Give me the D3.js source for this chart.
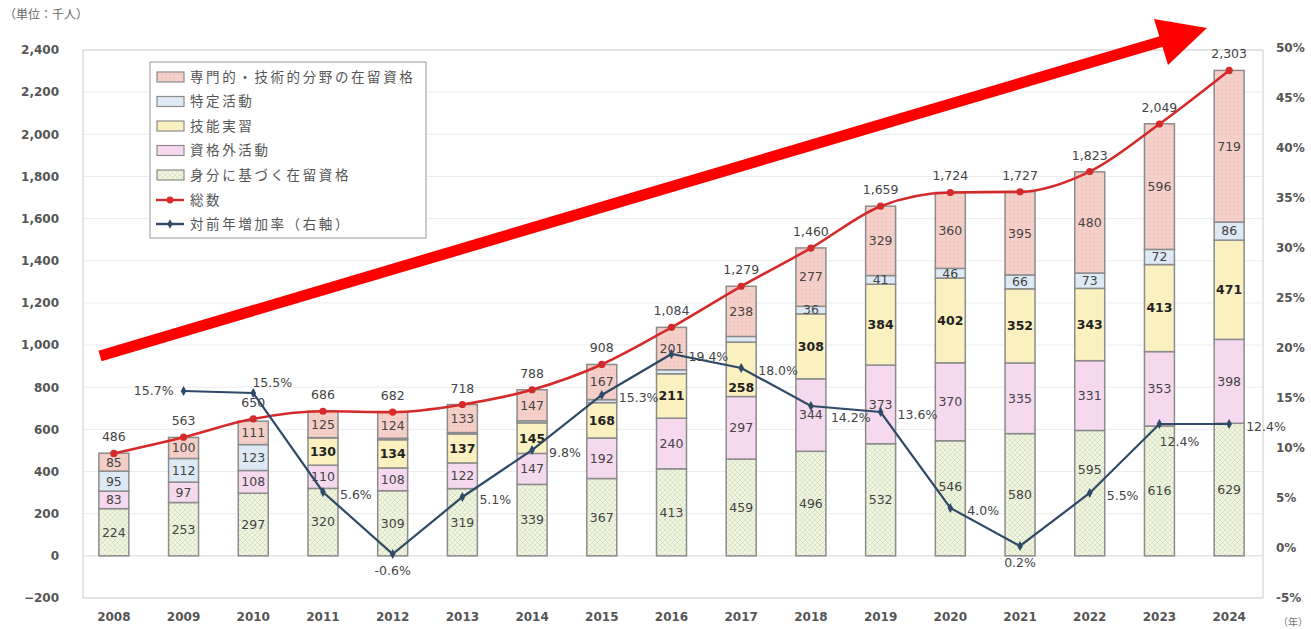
<!DOCTYPE html>
<meta charset="utf-8">
<style>
  body { margin: 0; background: #fff; }
  text { font-family: "DejaVu Sans", sans-serif; }
  .jp { font-family: "Noto Sans CJK JP", sans-serif; }
</style>
<div id="chart"></div>
<script src="https://d3js.org/d3.v7.min.js"></script>
<script>

// data (千人, %)
var years = ["2008","2009","2010","2011","2012","2013","2014","2015","2016","2017","2018","2019","2020","2021","2022","2023","2024"];
var mibun      = [224,253,297,320,309,319,339,367,413,459,496,532,546,580,595,616,629];
var shikakugai = [83,97,108,110,108,122,147,192,240,297,344,373,370,335,331,353,398];
var ginou      = [0,0,0,130,134,137,145,168,211,258,308,384,402,352,343,413,471];
var tokutei    = [95,112,123,1,7,7,10,14,19,27,36,41,46,66,73,72,86];
var senmon     = [85,100,111,125,124,133,147,167,201,238,277,329,360,395,480,596,719];
var total      = [486,563,650,686,682,718,788,908,1084,1279,1460,1659,1724,1727,1823,2049,2303];
var growth     = [null,15.7,15.5,5.6,-0.6,5.1,9.8,15.3,19.4,18.0,14.2,13.6,4.0,0.2,5.5,12.4,12.4];
// where each growth label sits relative to its point
var growthPos  = [null,"left","above","right","below","right","right","right","right","right","rightlow","right","right","below","right","belowright","right"];

var leftTicks  = [-200,0,200,400,600,800,1000,1200,1400,1600,1800,2000,2200,2400];
var rightTicks = [-5,0,5,10,15,20,25,30,35,40,45,50];

var keys = ["mibun","shikakugai","ginou","tokutei","senmon"];
var names = {
  senmon: "専門的・技術的分野の在留資格",
  tokutei: "特定活動",
  ginou: "技能実習",
  shikakugai: "資格外活動",
  mibun: "身分に基づく在留資格"
};
var fills = {
  mibun: "url(#pGreen)",
  shikakugai: "#f6d8ef",
  ginou: "#fbf0bf",
  tokutei: "#dde9f5",
  senmon: "url(#pSalmon)"
};
// a few segment labels are shifted in the original to dodge the lines
var nudge = {"ginou-2017": 18, "mibun-2020": -12, "mibun-2022": -24};

var rows = years.map(function(y, i) {
  return {year: y, mibun: mibun[i], shikakugai: shikakugai[i], ginou: ginou[i], tokutei: tokutei[i], senmon: senmon[i]};
});

var W = 1311, H = 629;
var svg = d3.select("#chart").append("svg").attr("width", W).attr("height", H);

var defs = svg.append("defs");
var pg = defs.append("pattern").attr("id", "pGreen").attr("patternUnits", "userSpaceOnUse")
  .attr("width", 5).attr("height", 5);
pg.append("rect").attr("width", 5).attr("height", 5).attr("fill", "#f1f5e2");
pg.append("path").attr("d", "M0,0 L5,5 M5,0 L0,5").attr("stroke", "#cfdcb4").attr("stroke-width", 0.7);
var ps = defs.append("pattern").attr("id", "pSalmon").attr("patternUnits", "userSpaceOnUse")
  .attr("width", 4).attr("height", 4);
ps.append("rect").attr("width", 4).attr("height", 4).attr("fill", "#f5d0c8");
ps.append("circle").attr("cx", 2).attr("cy", 2).attr("r", 0.6).attr("fill", "#e8b4aa");

// scales
var x = d3.scaleBand().domain(years).range([79, 1264]).paddingInner(0.57).paddingOuter(0.285);
var y = d3.scaleLinear().domain([-200, 2400]).range([598, 50]);
var y2 = d3.scaleLinear().domain([-5, 50]).range([598, 48]);

// frame + grid
svg.append("g").selectAll("line").data(leftTicks).join("line")
  .attr("x1", 83).attr("x2", 1263)
  .attr("y1", function(d) { return y(d); }).attr("y2", function(d) { return y(d); })
  .attr("stroke", function(d) { return d === 0 ? "#d8d8d8" : "#ececec"; }).attr("stroke-width", 1);
svg.append("rect").attr("x", 83).attr("y", 50).attr("width", 1180).attr("height", 548)
  .attr("fill", "none").attr("stroke", "#d6d6d6").attr("stroke-width", 1.2);

// axes
var yAxis = svg.append("g").attr("transform", "translate(62,0)")
  .call(d3.axisLeft(y).tickValues(leftTicks).tickSize(0).tickFormat(d3.format(",")));
var y2Axis = svg.append("g").attr("transform", "translate(1273,0)")
  .call(d3.axisRight(y2).tickValues(rightTicks).tickSize(0).tickFormat(function(d) { return d + "%"; }));
var xAxis = svg.append("g").attr("transform", "translate(0,617)")
  .call(d3.axisBottom(x).tickSize(0));
[yAxis, y2Axis, xAxis].forEach(function(a) {
  a.select(".domain").remove();
  a.selectAll("text").attr("fill", "#555").attr("font-size", 12).attr("font-weight", "bold")
    .style("font-family", "DejaVu Sans, sans-serif");
});
yAxis.selectAll("text").attr("dx", 0);
xAxis.selectAll("text").attr("dy", "0.35em").attr("y", 0);

svg.append("text").attr("class", "jp").attr("x", 4).attr("y", 19)
  .attr("font-size", 12).attr("fill", "#666").text("（単位：千人）");
svg.append("text").attr("class", "jp").attr("x", 1278).attr("y", 626)
  .attr("font-size", 10).attr("fill", "#777").text("（年）");

// stacked bars
var stacked = d3.stack().keys(keys)(rows);
var layers = svg.append("g").selectAll("g").data(stacked).join("g")
  .attr("fill", function(d) { return fills[d.key]; });
layers.selectAll("rect").data(function(d) { return d; }).join("rect")
  .attr("x", function(d) { return x(d.data.year); })
  .attr("width", x.bandwidth())
  .attr("y", function(d) { return y(d[1]); })
  .attr("height", function(d) { return y(d[0]) - y(d[1]); })
  .attr("stroke", "#8c8c8c").attr("stroke-width", 1.5);

// segment labels
stacked.forEach(function(layer) {
  svg.append("g").selectAll("text")
    .data(layer.filter(function(d) { return d[1] - d[0] >= 30; }))
    .join("text")
    .attr("x", function(d) { return x(d.data.year) + x.bandwidth() / 2; })
    .attr("y", function(d) { return y((d[0] + d[1]) / 2) + (nudge[layer.key + "-" + d.data.year] || 0); })
    .attr("dy", "0.35em")
    .attr("text-anchor", "middle")
    .attr("font-size", 12.5)
    .attr("font-weight", layer.key === "ginou" ? "bold" : "normal")
    .attr("fill", layer.key === "ginou" ? "#222" : "#444")
    .text(function(d) { return d[1] - d[0]; });
});

// total line
var cx = function(i) { return x(years[i]) + x.bandwidth() / 2; };
svg.append("path").datum(total)
  .attr("fill", "none").attr("stroke", "#d42a2a").attr("stroke-width", 2.6)
  .attr("d", d3.line().x(function(d, i) { return cx(i); }).y(function(d) { return y(d); }).curve(d3.curveMonotoneX));
svg.append("g").selectAll("circle").data(total).join("circle")
  .attr("cx", function(d, i) { return cx(i); }).attr("cy", function(d) { return y(d); })
  .attr("r", 3.6).attr("fill", "#d42a2a");
svg.append("g").selectAll("text").data(total).join("text")
  .attr("x", function(d, i) { return cx(i); }).attr("y", function(d) { return y(d) - 12; })
  .attr("text-anchor", "middle").attr("font-size", 12.5).attr("fill", "#444")
  .text(function(d) { return d3.format(",")(d); });

// growth line (right axis)
var gpts = growth.map(function(g, i) { return {g: g, i: i, pos: growthPos[i]}; })
  .filter(function(d) { return d.g !== null; });
svg.append("path").datum(gpts)
  .attr("fill", "none").attr("stroke", "#2f4a66").attr("stroke-width", 2.2)
  .attr("d", d3.line().x(function(d) { return cx(d.i); }).y(function(d) { return y2(d.g); }));
svg.append("g").selectAll("path").data(gpts).join("path")
  .attr("d", d3.symbol().type(d3.symbolDiamond).size(28))
  .attr("transform", function(d) { return "translate(" + cx(d.i) + "," + y2(d.g) + ")"; })
  .attr("fill", "#2f4a66");
var off = {
  left: [-10, 0, "end"], above: [19, -10, "middle"], right: [17, 3, "start"],
  below: [0, 17, "middle"], rightlow: [20, 12, "start"], belowright: [20, 18, "middle"]
};
svg.append("g").selectAll("text").data(gpts).join("text")
  .attr("x", function(d) { return cx(d.i) + off[d.pos][0]; })
  .attr("y", function(d) { return y2(d.g) + off[d.pos][1]; })
  .attr("dy", "0.35em")
  .attr("text-anchor", function(d) { return off[d.pos][2]; })
  .attr("font-size", 12.5).attr("fill", "#444")
  .text(function(d) { return d.g.toFixed(1) + "%"; });

// legend
var lg = svg.append("g");
lg.append("rect").attr("x", 150).attr("y", 62).attr("width", 276).attr("height", 176)
  .attr("fill", "#fff").attr("stroke", "#aaa").attr("stroke-width", 1.2);
var legKeys = ["senmon","tokutei","ginou","shikakugai","mibun"];
legKeys.forEach(function(k, i) {
  var yy = 77 + i * 24.5;
  lg.append("rect").attr("x", 157).attr("y", yy - 5).attr("width", 27).attr("height", 10)
    .attr("fill", fills[k]).attr("stroke", "#8c8c8c").attr("stroke-width", 1.2);
  lg.append("text").attr("class", "jp").attr("x", 190).attr("y", yy).attr("dy", "0.35em")
    .attr("font-size", 13.5).attr("letter-spacing", 2.6).attr("fill", "#555").text(names[k]);
});
var legLines = [
  {label: "総数", color: "#d42a2a", sym: "circle"},
  {label: "対前年増加率（右軸）", color: "#2f4a66", sym: "diamond"}
];
legLines.forEach(function(l, i) {
  var yy = 200 + i * 24;
  lg.append("line").attr("x1", 156).attr("x2", 184).attr("y1", yy).attr("y2", yy)
    .attr("stroke", l.color).attr("stroke-width", 2.4);
  lg.append("path")
    .attr("d", d3.symbol().type(l.sym === "circle" ? d3.symbolCircle : d3.symbolDiamond).size(l.sym === "circle" ? 36 : 26))
    .attr("transform", "translate(170," + yy + ")").attr("fill", l.color);
  lg.append("text").attr("class", "jp").attr("x", 190).attr("y", yy).attr("dy", "0.35em")
    .attr("font-size", 13.5).attr("letter-spacing", 2.6).attr("fill", "#555").text(l.label);
});

// big red trend arrow (annotation)
svg.append("line").attr("x1", 100).attr("y1", 356).attr("x2", 1163).attr("y2", 41)
  .attr("stroke", "#ff0000").attr("stroke-width", 11);
svg.append("path").attr("d", "M1154,19 L1207,28 L1168,65 Z").attr("fill", "#ff0000");

</script>
